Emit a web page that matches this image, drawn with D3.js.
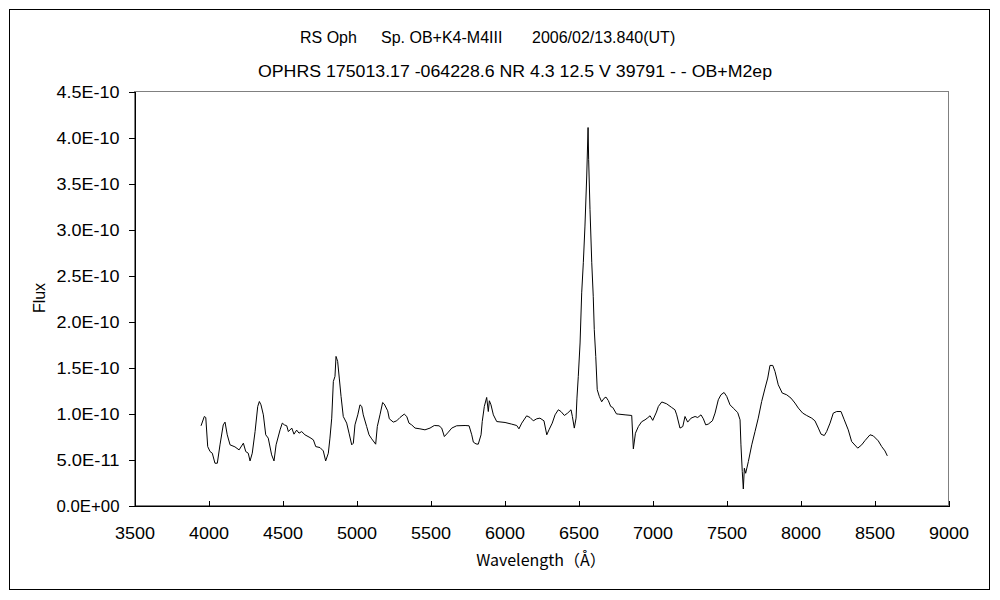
<!DOCTYPE html>
<html><head><meta charset="utf-8">
<script src="https://cdn.jsdelivr.net/npm/d3@7"></script>
<style>body{margin:0;background:#fff}svg{display:block}</style>
</head><body>
<svg id="chart" width="1000" height="600"></svg>
<script>
// ---- data ----
const titleParts = ["RS Oph", "Sp. OB+K4-M4III", "2006/02/13.840(UT)"];
const subtitle = "OPHRS 175013.17 -064228.6 NR 4.3 12.5 V 39791 - - OB+M2ep";
const xLabel = "Wavelength（Å）";
const yLabel = "Flux";
const xTicks = [3500, 4000, 4500, 5000, 5500, 6000, 6500, 7000, 7500, 8000, 8500, 9000];
const yTicks = [0, 0.5, 1.0, 1.5, 2.0, 2.5, 3.0, 3.5, 4.0, 4.5]; // in units of 1E-10
const yTickLabels = ["0.0E+00", "5.0E-11", "1.0E-10", "1.5E-10", "2.0E-10", "2.5E-10", "3.0E-10", "3.5E-10", "4.0E-10", "4.5E-10"];
const wavelength = [
3953,3975,3985,3998,4014,4029,4047,4063,4081,4103,4115,4130,4149,4182,4210,4239,4255,4272,4284,4299,
4318,4336,4347,4358,4374,4390,4407,4430,4446,4460,4487,4502,4516,4532,4543,4566,4581,4599,4615,4633,
4655,4689,4712,4728,4757,4779,4795,4813,4824,4836,4847,4858,4865,4876,4887,4899,4914,4937,4953,4971,
4982,4993,5012,5027,5039,5049,5072,5088,5106,5133,5144,5162,5180,5191,5214,5225,5252,5275,5297,5326,
5343,5358,5376,5399,5432,5466,5500,5529,5561,5579,5597,5624,5647,5680,5737,5764,5782,5793,5811,5826,
5845,5853,5867,5883,5894,5901,5912,5928,5951,6007,6052,6086,6101,6120,6153,6176,6198,6221,6243,6270,
6289,6304,6326,6345,6367,6385,6408,6430,6453,6462,6475,6487,6493,6502,6514,6525,6536,6547,6559,6568,
6572,6581,6593,6603,6610,6620,6630,6644,6660,6676,6689,6705,6721,6735,6760,6772,6818,6863,6874,6888,
6908,6930,6953,6968,6987,7005,7030,7043,7066,7099,7133,7155,7167,7189,7208,7223,7241,7264,7291,7309,
7331,7347,7363,7380,7408,7426,7448,7466,7487,7505,7527,7549,7579,7595,7601,7610,7617,7624,7633,7651,
7674,7696,7718,7741,7764,7782,7797,7816,7831,7853,7880,7910,7939,7966,7989,8018,8045,8079,8101,8124,
8142,8164,8180,8203,8225,8248,8277,8299,8326,8349,8390,8417,8439,8473,8495,8529,8552,8574,8590];
const flux = [ // units of 1E-10
0.861,0.962,0.951,0.635,0.581,0.563,0.454,0.454,0.654,0.871,0.901,0.763,0.654,0.632,0.599,0.672,0.581,0.563,0.479,0.563,
0.798,1.071,1.125,1.089,0.980,0.763,0.727,0.545,0.479,0.654,0.817,0.890,0.871,0.861,0.798,0.836,0.770,0.814,0.781,0.798,
0.763,0.733,0.708,0.635,0.624,0.588,0.479,0.563,0.727,0.944,1.343,1.398,1.615,1.561,1.380,1.180,0.962,0.890,0.781,0.654,
0.672,0.871,0.980,1.089,1.071,0.980,0.853,0.763,0.719,0.661,0.853,0.980,1.114,1.097,1.024,0.937,0.901,0.915,0.951,0.988,
0.962,0.890,0.871,0.836,0.828,0.817,0.836,0.864,0.861,0.836,0.744,0.792,0.836,0.861,0.864,0.861,0.763,0.683,0.664,0.661,
0.763,0.907,1.071,1.169,1.016,1.133,1.089,0.980,0.907,0.897,0.879,0.864,0.828,0.890,0.969,0.951,0.915,0.937,0.944,0.915,
0.763,0.817,0.890,0.980,1.035,1.016,0.973,0.999,1.035,0.962,0.836,0.944,1.162,1.398,1.761,2.306,2.633,3.032,3.576,4.103,
3.758,3.214,2.633,2.269,1.906,1.615,1.253,1.180,1.122,1.160,1.173,1.135,1.071,1.060,0.990,0.988,0.980,0.973,0.610,0.780,
0.853,0.905,0.926,0.944,0.970,0.920,1.010,1.071,1.120,1.100,1.060,1.035,0.980,0.836,0.853,0.962,0.901,0.944,0.962,0.951,
0.980,0.937,0.871,0.879,0.915,0.999,1.144,1.198,1.223,1.180,1.089,1.053,1.005,0.926,0.654,0.363,0.174,0.400,0.345,0.472,
0.654,0.798,0.944,1.125,1.271,1.380,1.517,1.517,1.452,1.307,1.217,1.198,1.162,1.108,1.053,0.999,0.973,0.944,0.915,0.836,
0.770,0.755,0.798,0.890,0.999,1.016,1.016,0.926,0.817,0.690,0.618,0.654,0.700,0.763,0.752,0.697,0.635,0.588,0.534];

// ---- layout ----
const W = 1000, H = 600;
const plot = {left: 134, right: 948, top: 91, bottom: 505};
const font = "'Liberation Sans', Arial, sans-serif";
const cjkFont = "'Noto Sans CJK JP', 'Liberation Sans', sans-serif";

const svg = d3.select("#chart");
svg.append("rect").attr("x", 0).attr("y", 0).attr("width", W).attr("height", H).attr("fill", "#fff");
// outer chart border
svg.append("rect").attr("x", 9.5).attr("y", 9.5).attr("width", 980).attr("height", 580)
  .attr("fill", "none").attr("stroke", "#000").attr("stroke-width", 1);

const x = d3.scaleLinear().domain([3500, 9000]).range([plot.left, plot.right]);
const y = d3.scaleLinear().domain([0, 4.5]).range([plot.bottom, plot.top]);

// plot area frame (gray)
svg.append("rect").attr("x", plot.left + 0.5).attr("y", plot.top + 0.5)
  .attr("width", plot.right - plot.left).attr("height", plot.bottom - plot.top)
  .attr("fill", "none").attr("stroke", "#808080").attr("stroke-width", 1)
  .attr("shape-rendering", "crispEdges");

// y axis
const yAxis = d3.axisLeft(y).tickValues(yTicks).tickSize(6).tickPadding(9)
  .tickFormat((d, i) => yTickLabels[i]);
const gy = svg.append("g").attr("transform", `translate(${plot.left + 0.5},0.5)`).call(yAxis);
gy.select(".domain").attr("stroke", "#000").attr("shape-rendering", "crispEdges");
gy.selectAll(".tick line").attr("stroke", "#000").attr("shape-rendering", "crispEdges");
gy.selectAll(".tick text").attr("font-family", font).attr("font-size", 16).attr("fill", "#000")
  .attr("textLength", 63).attr("lengthAdjust", "spacingAndGlyphs").attr("dy", "0.35em");

// x axis
const xAxis = d3.axisBottom(x).tickValues(xTicks).tickSize(-5).tickPadding(22).tickFormat(d3.format("d"));
const gx = svg.append("g").attr("transform", `translate(0.5,${plot.bottom + 0.5})`).call(xAxis);
gx.select(".domain").attr("stroke", "#000").attr("shape-rendering", "crispEdges");
gx.selectAll(".tick line").attr("stroke", "#000").attr("shape-rendering", "crispEdges");
gx.selectAll(".tick text").attr("font-family", font).attr("font-size", 16).attr("fill", "#000")
  .attr("textLength", 40).attr("lengthAdjust", "spacingAndGlyphs");

// spectrum line
const pts = wavelength.map((w, i) => [w, flux[i]]);
const line = d3.line().x(d => x(d[0])).y(d => y(d[1]));
svg.append("path").datum(pts).attr("d", line).attr("fill", "none")
  .attr("stroke", "#000").attr("stroke-width", 1).attr("stroke-linejoin", "round");

// titles
const titleX = [300, 381, 532];
svg.selectAll("text.title").data(titleParts).join("text").attr("class", "title")
  .attr("x", (d, i) => titleX[i]).attr("y", 43)
  .attr("font-family", font).attr("font-size", 16).attr("fill", "#000").text(d => d);
svg.append("text").attr("x", 258).attr("y", 77)
  .attr("font-family", font).attr("font-size", 16).attr("fill", "#000")
  .attr("textLength", 514).attr("lengthAdjust", "spacingAndGlyphs").text(subtitle);

// axis titles
svg.append("text").attr("x", (plot.left + plot.right) / 2).attr("y", 566).attr("text-anchor", "middle")
  .attr("font-family", cjkFont).attr("font-size", 16).attr("fill", "#000").text(xLabel);
svg.append("text").attr("transform", `translate(45,${(plot.top + plot.bottom) / 2}) rotate(-90)`)
  .attr("text-anchor", "middle").attr("font-family", font).attr("font-size", 16).attr("fill", "#000").text(yLabel);
</script>
</body></html>
